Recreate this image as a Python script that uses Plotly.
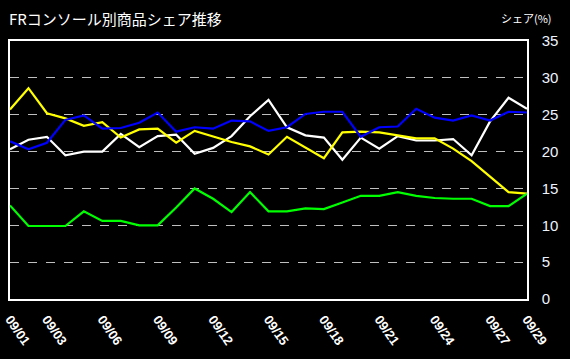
import plotly.graph_objects as go

dates = [f"09/{d:02d}" for d in range(1, 30)]
tick_labels = ["09/01", "09/03", "09/06", "09/09", "09/12", "09/15", "09/18",
               "09/21", "09/24", "09/27", "09/29"]

white_vals = [20.3, 21.6, 22.0, 19.5, 20.0, 20.0, 22.4, 20.6, 22.1, 22.3,
              19.7, 20.5, 22.1, 24.8, 27.0, 23.3, 22.2, 21.9, 18.9, 21.9,
              20.4, 22.1, 21.5, 21.5, 21.7, 19.5, 24.1, 27.3, 25.8]
blue_vals = [21.4, 20.3, 21.2, 24.3, 24.9, 23.1, 23.2, 23.9, 25.3, 22.7,
             23.3, 23.1, 24.2, 24.1, 22.8, 23.3, 25.1, 25.4, 25.4, 22.0,
             23.3, 23.4, 25.8, 24.6, 24.2, 24.9, 24.2, 25.4, 25.3]
yellow_vals = [25.7, 28.6, 25.2, 24.5, 23.5, 24.0, 21.9, 23.0, 23.1, 21.2,
               22.8, 22.0, 21.3, 20.7, 19.6, 22.0, 20.5, 19.1, 22.6, 22.7,
               22.6, 22.2, 21.8, 21.8, 20.4, 18.7, 16.6, 14.5, 14.3]
green_vals = [12.7, 9.9, 9.9, 9.9, 11.9, 10.6, 10.6, 10.0, 10.0, 12.4,
              15.0, 13.6, 11.8, 14.5, 11.9, 11.9, 12.3, 12.2, 13.1, 14.0,
              14.0, 14.5, 14.0, 13.7, 13.6, 13.6, 12.6, 12.6, 14.3]

series = [
    ("white", white_vals, "#ffffff"),
    ("yellow", yellow_vals, "#ffff00"),
    ("blue", blue_vals, "#0000ff"),
    ("green", green_vals, "#00ff00"),
]

fig = go.Figure()
for name, vals, col in series:
    fig.add_trace(go.Scatter(x=dates, y=vals, mode="lines", name=name,
                             line=dict(color=col, width=2.2), showlegend=False))

fig.update_layout(
    width=570, height=359,
    margin=dict(l=10, r=43, t=41, b=60),
    paper_bgcolor="#000000", plot_bgcolor="#000000",
    font=dict(family="Liberation Sans, Arial, sans-serif", color="#ffffff"),
    xaxis=dict(
        type="category", categoryorder="array", categoryarray=dates,
        range=[0, 28], tickmode="array", tickvals=tick_labels,
        ticktext=[f"<b>{t}</b>" for t in tick_labels],
        tickangle=55, tickfont=dict(size=13, color="#ffffff"),
        showgrid=False, zeroline=False, automargin=False,
        showline=True, linecolor="#ffffff", linewidth=1.5, mirror=True,
        ticks="", ticklabelstandoff=6,
    ),
    yaxis=dict(
        side="right", range=[0, 35], tickmode="linear", tick0=0, dtick=5,
        tickfont=dict(size=15, color="#eef4ff"), automargin=False,
        showgrid=True, gridcolor="#bfbfbf", griddash="dash", gridwidth=1,
        zeroline=False, showline=True, linecolor="#ffffff", linewidth=1.5,
        mirror=True, ticks="", ticklabelstandoff=10,
    ),
    annotations=[
        dict(text="FRコンソール別商品シェア推移", xref="paper", yref="paper",
             x=-0.005, y=1.0, yshift=23, xanchor="left", yanchor="middle",
             showarrow=False,
             font=dict(family="Noto Sans CJK JP", size=15, color="#ffffff")),
        dict(text="シェア(%)", xref="paper", yref="paper",
             x=1.0, y=1.0, yshift=23, xshift=27, xanchor="right", yanchor="middle",
             showarrow=False,
             font=dict(family="Noto Sans CJK JP", size=11, color="#ffffff")),
    ],
)

fig.write_html("out.html", config={"displayModeBar": False},
               post_script="document.body.style.margin='0';document.body.style.background='#000';")
